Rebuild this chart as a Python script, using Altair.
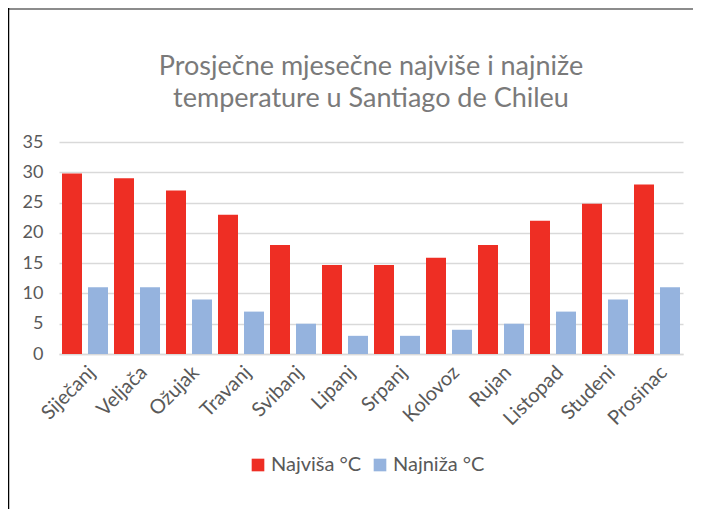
import altair as alt
import pandas as pd

months = ["Siječanj", "Veljača", "Ožujak", "Travanj", "Svibanj", "Lipanj",
          "Srpanj", "Kolovoz", "Rujan", "Listopad", "Studeni", "Prosinac"]
high = [29.8, 29, 27, 23, 18, 14.7, 14.7, 15.9, 18, 22, 24.8, 28]
low = [11, 11, 9, 7, 5, 3, 3, 4, 5, 7, 9, 11]
series = ["Najviša °C", "Najniža °C"]
colors = ["#EE2E24", "#95B3DE"]
title_lines = ["Prosječne mjesečne najviše i najniže", "temperature u Santiago de Chileu"]

rows = []
for m, h, l in zip(months, high, low):
    rows.append({"month": m, "series": series[0], "value": h})
    rows.append({"month": m, "series": series[1], "value": l})
df = pd.DataFrame(rows)

FONT = "Lato"
W, H = 624, 212

bars = alt.Chart(df).mark_bar().encode(
    x=alt.X("month:N", sort=months, title=None,
            scale=alt.Scale(paddingInner=0, paddingOuter=0),
            axis=alt.Axis(labelAngle=-45, labelFontSize=20, labelColor="#595959",
                          labelFont=FONT, ticks=False, domainColor="#d9d9d9",
                          domainWidth=1.5, labelPadding=8)),
    xOffset=alt.XOffset("series:N", sort=series,
                        scale=alt.Scale(paddingInner=6/26, paddingOuter=3/26)),
    y=alt.Y("value:Q", title=None,
            scale=alt.Scale(domain=[0, 35], nice=False),
            axis=alt.Axis(values=[0, 5, 10, 15, 20, 25, 30, 35], labelFontSize=18,
                          labelColor="#595959", labelFont=FONT, ticks=False, domain=False,
                          gridColor="#d9d9d9", gridWidth=1.5, labelPadding=16)),
    color=alt.Color("series:N", sort=series,
                    scale=alt.Scale(domain=series, range=colors),
                    legend=alt.Legend(title=None, orient="none", legendX=189, legendY=313,
                                      direction="horizontal", symbolType="square",
                                      symbolSize=160, symbolStrokeWidth=0,
                                      labelFontSize=20, labelColor="#595959",
                                      labelFont=FONT, columnPadding=8, labelOffset=3)),
)

border_df = pd.DataFrame({"a": [0]})
top_line = alt.Chart(border_df).mark_rule(color="#8c8c8c", strokeWidth=2).encode(
    x=alt.value(-51), x2=alt.value(634), y=alt.value(-133))
left_line = alt.Chart(border_df).mark_rule(color="#000000", strokeWidth=1.5).encode(
    x=alt.value(-50.5), y=alt.value(-134), y2=alt.value(367))

chart = alt.layer(bars, top_line, left_line).properties(
    width=W, height=H,
    title=alt.TitleParams(title_lines, fontSize=27, font=FONT, fontWeight="normal",
                          color="#7a7a7a", anchor="middle", frame="group",
                          offset=-106, lineHeight=32),
    autosize=alt.AutoSizeParams(type="none"),
    padding={"left": 51, "top": 134, "right": 10, "bottom": 155},
).configure(background="white").configure_view(strokeWidth=0)

chart.save("out.html", embed_options={"renderer": "svg", "actions": False})
